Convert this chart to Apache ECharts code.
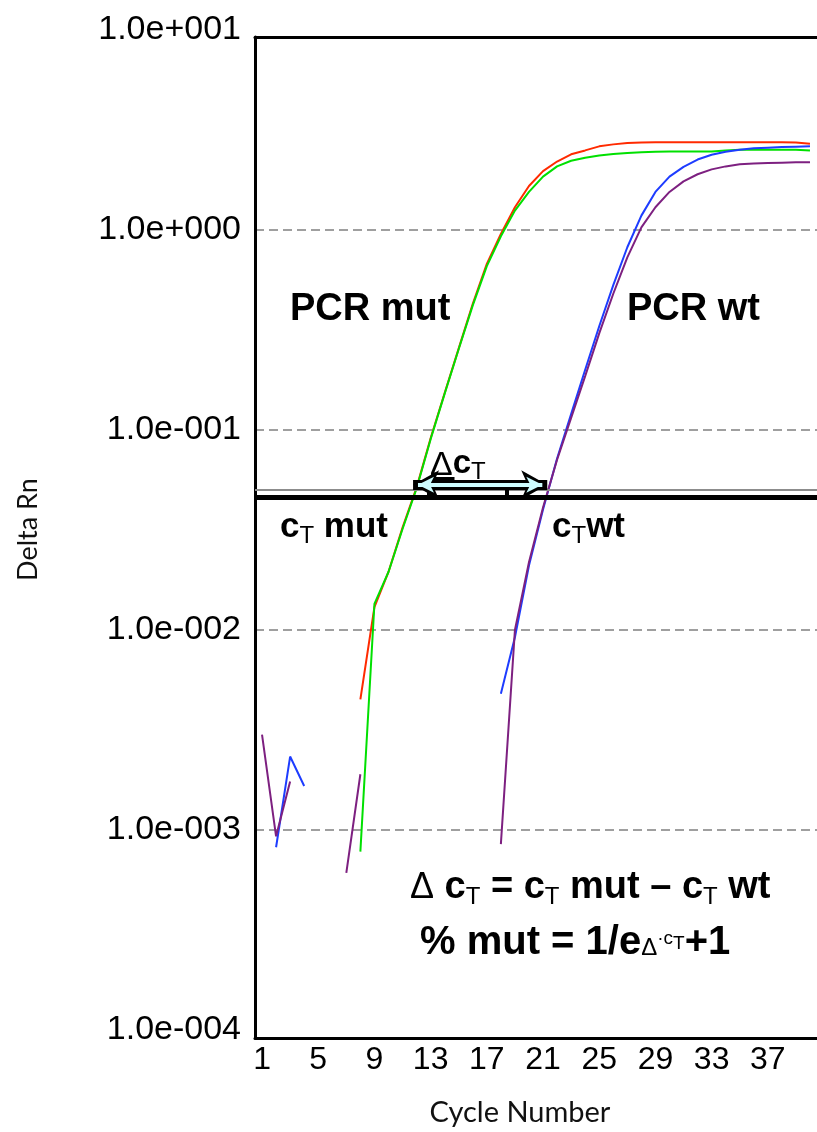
<!DOCTYPE html>
<html lang="en">
<head>
<meta charset="UTF-8" />
<title>Delta Rn vs Cycle Number</title>
<style>
  html, body { margin: 0; padding: 0; background: #fff; }
  #container { width: 817px; height: 1132px; }
</style>
<script src="https://cdn.jsdelivr.net/npm/echarts@6.0.0/dist/echarts.min.js"></script>
</head>
<body>
<div id="container"></div>
<script>
// cycle numbers and Delta Rn readings (null = not drawn on the log scale)
const cycles = [1, 2, 3, 4, 5, 6, 7, 8, 9, 10, 11, 12, 13, 14, 15, 16, 17, 18, 19, 20,
  21, 22, 23, 24, 25, 26, 27, 28, 29, 30, 31, 32, 33, 34, 35, 36, 37, 38, 39, 40]

const mutRed = [null, null, null, null, null, null, null, 0.0045, 0.013, 0.0195,
  0.0325, 0.0515, 0.091, 0.153, 0.256, 0.428, 0.677, 0.955, 1.30, 1.66,
  1.97, 2.20, 2.39, 2.50, 2.62, 2.68, 2.72, 2.74, 2.75, 2.75,
  2.75, 2.75, 2.75, 2.75, 2.75, 2.75, 2.75, 2.75, 2.74, 2.70]

const mutGreen = [null, null, null, null, null, null, null, 0.00078, 0.0135, 0.0195,
  0.032, 0.051, 0.09, 0.152, 0.254, 0.42, 0.66, 0.93, 1.25, 1.55,
  1.85, 2.08, 2.22, 2.30, 2.36, 2.40, 2.43, 2.45, 2.46, 2.47,
  2.47, 2.47, 2.47, 2.50, 2.52, 2.52, 2.52, 2.52, 2.52, 2.50]

const wtBlue = [null, 0.00082, 0.00233, 0.00166, null, null, null, null, null, null,
  null, null, null, null, null, null, null, 0.0048, 0.0092, 0.021,
  0.040, 0.072, 0.12, 0.20, 0.33, 0.53, 0.82, 1.18, 1.55, 1.85,
  2.07, 2.25, 2.38, 2.46, 2.52, 2.56, 2.58, 2.60, 2.61, 2.62]

const wtPurple = [0.0030, 0.00093, 0.00175, null, null, null, 0.00061, 0.0019, null, null,
  null, null, null, null, null, null, null, 0.00085, 0.0100, 0.0218,
  0.041, 0.071, 0.115, 0.186, 0.304, 0.48, 0.73, 1.03, 1.30, 1.55,
  1.75, 1.90, 2.01, 2.08, 2.13, 2.15, 2.16, 2.17, 2.18, 2.18]

const xTickLabels = [1, 5, 9, 13, 17, 21, 25, 29, 33, 37]
const yLabelExp = [-4, -3, -2, -1, 0]
const yGridExp = [-3, -2, -1, 0]
const thresholdGray = 0.0503
const thresholdBlack = 0.0459
// delta cT arrow: from cT mut to cT wt
const arrowCycles = [11.75, 21.3]
const arrowLevel = 0.0532
const arrowStubs = [12.9, 18.4]
const deltaBar = [13.1, 14.7]
const deltaBarLevel = 0.057

const lg = (v) => Math.log10(v)
function toData(vals) {
  return cycles.map((c, i) => [c, vals[i] == null ? '-' : lg(vals[i])])
}
function sci(e) {
  return '1.0e' + (e < 0 ? '-' : '+') + String(Math.abs(e)).padStart(3, '0')
}

const chart = echarts.init(document.getElementById('container'))
const tickFont = '"Liberation Sans", Arial, sans-serif'

function curve(name, vals, color) {
  return {
    name, type: 'line', data: toData(vals), showSymbol: false, symbol: 'none',
    connectNulls: false, lineStyle: { color, width: 2 }, itemStyle: { color },
    silent: true
  }
}

const option = {
  animation: false,
  backgroundColor: '#fff',
  grid: { left: 255, top: 37, width: 563, height: 1006 },
  xAxis: [
    {
      type: 'value', min: 0.5, max: 40.5,
      name: 'Cycle Number', nameLocation: 'middle', nameGap: 60,
      nameTextStyle: { fontFamily: 'Lato', fontSize: 29, color: '#111', padding: [0, 32, 0, 0] },
      axisLine: { show: true, onZero: false, lineStyle: { color: '#000', width: 3 } },
      axisTick: { show: false },
      splitLine: { show: false },
      axisLabel: {
        customValues: xTickLabels, fontFamily: tickFont, fontSize: 32, color: '#000', margin: 6
      }
    },
    {
      type: 'value', min: 0.5, max: 40.5, position: 'top',
      axisLine: { show: true, onZero: false, lineStyle: { color: '#000', width: 3 } },
      axisTick: { show: false }, axisLabel: { show: false }, splitLine: { show: false }
    }
  ],
  yAxis: {
    type: 'value', min: -4.04, max: 0.965,
    name: 'Delta Rn', nameLocation: 'middle', nameGap: 213, nameRotate: 90,
    nameTextStyle: { fontFamily: 'Lato', fontSize: 27, color: '#111', padding: [0, 0, 0, 16] },
    axisLine: { show: true, onZero: false, lineStyle: { color: '#000', width: 3 } },
    axisTick: { show: false, customValues: yGridExp },
    axisLabel: {
      customValues: yLabelExp, fontFamily: tickFont, fontSize: 34, color: '#000', margin: 14,
      formatter: (v) => sci(Math.round(v))
    },
    splitLine: { show: true, lineStyle: { color: '#808080', width: 1.5, type: [9, 5] } }
  },
  series: [
    curve('mut 1', mutRed, '#ff2a00'),
    curve('mut 2', mutGreen, '#00e000'),
    curve('wt 1', wtBlue, '#1d3cff'),
    curve('wt 2', wtPurple, '#7d2080'),
    {
      type: 'line', data: [], silent: true,
      markLine: {
        silent: true, symbol: 'none', label: { show: false }, animation: false,
        data: [
          [{ coord: [0.5, lg(thresholdGray)] }, { coord: [40.5, lg(thresholdGray)] , lineStyle: { color: '#8c8c8c', width: 2, type: 'solid' } }],
          [{ coord: [0.5, lg(thresholdBlack)] }, { coord: [40.5, lg(thresholdBlack)], lineStyle: { color: '#000', width: 5, type: 'solid' } }],
          [{ coord: [arrowStubs[0], lg(arrowLevel)] }, { coord: [arrowStubs[0], lg(thresholdBlack)], lineStyle: { color: '#000', width: 4, type: 'solid' } }],
          [{ coord: [arrowStubs[1], lg(arrowLevel)] }, { coord: [arrowStubs[1], lg(thresholdBlack)], lineStyle: { color: '#000', width: 4, type: 'solid' } }],
          [{ coord: [deltaBar[0], lg(deltaBarLevel)] }, { coord: [deltaBar[1], lg(deltaBarLevel)], lineStyle: { color: '#000', width: 5, type: 'solid' } }]
        ]
      }
    },
    {
      type: 'line', data: [], silent: true,
      markLine: {
        silent: true, symbol: ['arrow', 'arrow'], symbolSize: [22, 26], label: { show: false },
        lineStyle: { color: '#000', width: 10, type: 'solid' },
        data: [[{ coord: [arrowCycles[0], lg(arrowLevel)] }, { coord: [arrowCycles[1], lg(arrowLevel)] }]]
      }
    },
    {
      type: 'line', data: [], silent: true,
      markLine: {
        silent: true, symbol: ['arrow', 'arrow'], symbolSize: [12, 16], label: { show: false },
        lineStyle: { color: '#ccfcff', width: 4, type: 'solid' },
        data: [[{ coord: [arrowCycles[0] + 0.35, lg(arrowLevel)] }, { coord: [arrowCycles[1] - 0.35, lg(arrowLevel)] }]]
      }
    }
  ]
}
chart.setOption(option)

const B = (px) => ({ font: 'bold ' + px + 'px "Liberation Sans", Arial, sans-serif', fill: '#000', verticalAlign: 'middle' })
const S = (px, pt, pb) => ({ font: px + 'px "Liberation Sans", Arial, sans-serif', fill: '#000', verticalAlign: 'middle', padding: [pt, 0, pb, 0] })

const topY = chart.convertToPixel({ yAxisIndex: 0 }, 1)
const leftX = chart.convertToPixel({ xAxisIndex: 0 }, 0.5)

function txt(x, y, text, rich) {
  return { type: 'text', x, y, silent: true, z: 100, style: { text, rich, textAlign: 'left', textVerticalAlign: 'middle', verticalAlign: 'middle' } }
}

chart.setOption({
  graphic: [
    {
      type: 'text', x: leftX - 14, y: topY, silent: true,
      style: { text: sci(1), font: '34px ' + tickFont, fill: '#000', textAlign: 'right', textVerticalAlign: 'middle', verticalAlign: 'middle' }
    },
    txt(290, 310, '{b|PCR mut}', { b: B(38) }),
    txt(627, 310, '{b|PCR wt}', { b: B(38) }),
    txt(280, 527, '{b|c}{s|T}{b| mut}', { b: B(35), s: S(24, 18, 0) }),
    txt(552, 527, '{b|c}{s|T}{b|wt}', { b: B(35), s: S(24, 18, 0) }),
    txt(430, 464, '{d|Δ}{b|c}{s|T}', { d: S(34, 4, 0), b: B(33), s: S(24, 16, 0) }),
    txt(410, 888, '{d|Δ}{b| c}{s|T}{b| = c}{s|T}{b| mut – c}{s|T}{b| wt}', { d: S(36, 0, 0), b: B(38), s: S(24, 18, 0) }),
    txt(420, 943, '{b|% mut = 1/e}{d|Δ}{c|·c}{t|T}{b|+1}', { b: B(40), d: S(24, 10, 0), c: S(19, 0, 8), t: S(19, 2, 0) })
  ]
})
</script>
</body>
</html>
